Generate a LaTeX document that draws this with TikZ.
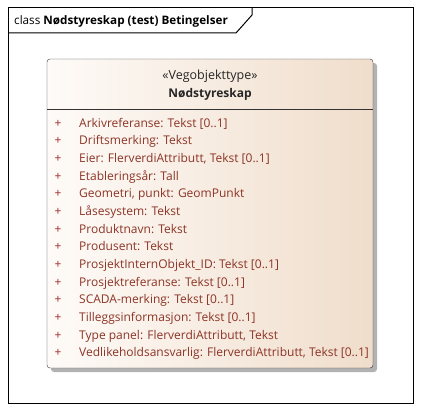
\documentclass[tikz,border=0pt]{standalone}
\usepackage{fontspec}
\setmainfont{Open Sans}
\begin{document}
\begin{tikzpicture}[x=1pt,y=-1pt]
\tikzstyle{attr}=[anchor=base west, inner sep=0pt, text=attrcol, font=\fontsize{12}{14}\selectfont]
\tikzstyle{plus}=[anchor=base, inner sep=0pt, text=pluscol, font=\fontsize{12}{14}\selectfont]
\definecolor{attrcol}{RGB}{140,52,38}
\definecolor{pluscol}{RGB}{160,40,40}
\definecolor{boxleft}{RGB}{254,251,248}
\definecolor{boxright}{RGB}{240,221,203}
\useasboundingbox (0,0) rectangle (422,412);

\draw[line width=1pt] (8,8) rectangle (413,403);
\draw[line width=1pt] (8,33) -- (236,33) -- (252,15) -- (252,8);
\node[anchor=base west, inner sep=0pt, font=\fontsize{11.7}{13}\selectfont] (title) at (14,24.5) {class \textbf{Nødstyreskap (test) Betingelser}};

\fill[gray!60, rounded corners=3pt] (51,63) rectangle (377,372);
\draw[gray!40!black, left color=boxleft, right color=boxright, rounded corners=3pt] (47,59) rectangle (373,368);
\draw[gray!40!black] (47,109) -- (373,109);
\node[anchor=base, inner sep=0pt, font=\fontsize{12.5}{14}\selectfont, text=black!85] (stereo) at (210,79.5) {«Vegobjekttype»};
\node[anchor=base, inner sep=0pt, font=\bfseries\fontsize{12}{14}\selectfont, text=black!85] (name) at (210,97.5) {Nødstyreskap};

\foreach \t [count=\i] in {{Arkivreferanse: Tekst [0..1]}, {Driftsmerking: Tekst}, {Eier: FlerverdiAttributt, Tekst [0..1]}, {Etableringsår: Tall}, {Geometri, punkt: GeomPunkt}, {Låsesystem: Tekst}, {Produktnavn: Tekst}, {Produsent: Tekst}, {ProsjektInternObjekt\_ID: Tekst [0..1]}, {Prosjektreferanse: Tekst [0..1]}, {SCADA-merking: Tekst [0..1]}, {Tilleggsinformasjon: Tekst [0..1]}, {Type panel: FlerverdiAttributt, Tekst}, {Vedlikeholdsansvarlig: FlerverdiAttributt, Tekst [0..1]}} {
\node[plus] (p\i) at (58,109.6+\i*17.65) {+};
\node[attr] (a\i) at (79,109.6+\i*17.65) {\t};
}

    \end{tikzpicture}
\end{document}
